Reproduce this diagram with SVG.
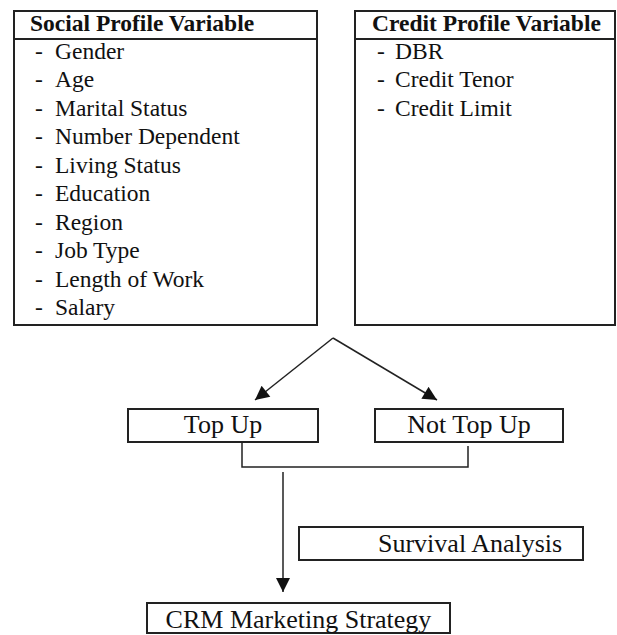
<svg xmlns="http://www.w3.org/2000/svg" width="617" height="635" viewBox="0 0 617 635">
<style>
.box{fill:#fff;stroke:#222;stroke-width:2}
.t{font-family:'Liberation Serif','DejaVu Serif',serif;fill:#111}
.h{font-weight:bold;font-size:23.5px}
.i{font-size:23.5px}
.l{font-size:26px}
.c{fill:none;stroke:#222;stroke-width:1.5}
</style>
<defs>
<marker id="ah" viewBox="0 0 10 10" refX="10" refY="5" markerWidth="16" markerHeight="14" markerUnits="userSpaceOnUse" orient="auto">
<path d="M0,0 L10,5 L0,10 z" fill="#111"/>
</marker>
</defs>
<rect width="617" height="635" fill="#fff"/>
<g id="social">
<rect class="box" x="14" y="11" width="303" height="314"/>
<line class="c" x1="14" y1="39" x2="317" y2="39" style="stroke-width:2"/>
<text class="t h" font-family="Liberation Serif, serif" x="30" y="31">Social Profile Variable</text>
<g class="t i" font-family="Liberation Serif, serif">
<text x="35" y="59">-</text><text x="55" y="59">Gender</text>
<text x="35" y="87.4">-</text><text x="55" y="87.4">Age</text>
<text x="35" y="115.9">-</text><text x="55" y="115.9">Marital Status</text>
<text x="35" y="144.3">-</text><text x="55" y="144.3">Number Dependent</text>
<text x="35" y="172.8">-</text><text x="55" y="172.8">Living Status</text>
<text x="35" y="201.2">-</text><text x="55" y="201.2">Education</text>
<text x="35" y="229.7">-</text><text x="55" y="229.7">Region</text>
<text x="35" y="258.1">-</text><text x="55" y="258.1">Job Type</text>
<text x="35" y="286.6">-</text><text x="55" y="286.6">Length of Work</text>
<text x="35" y="315">-</text><text x="55" y="315">Salary</text>
</g>
</g>
<g id="credit">
<rect class="box" x="355" y="11" width="260" height="314"/>
<line class="c" x1="355" y1="39" x2="615" y2="39" style="stroke-width:2"/>
<text class="t h" font-family="Liberation Serif, serif" x="372" y="31">Credit Profile Variable</text>
<g class="t i" font-family="Liberation Serif, serif">
<text x="377" y="59">-</text><text x="395" y="59">DBR</text>
<text x="377" y="87.4">-</text><text x="395" y="87.4">Credit Tenor</text>
<text x="377" y="115.9">-</text><text x="395" y="115.9">Credit Limit</text>
</g>
</g>
<g id="topup">
<rect class="box" x="128" y="409" width="190" height="33"/>
<text class="t l" font-family="Liberation Serif, serif" x="223" y="433" text-anchor="middle">Top Up</text>
</g>
<g id="nottopup">
<rect class="box" x="375" y="409" width="188" height="33"/>
<text class="t l" font-family="Liberation Serif, serif" x="469" y="433" text-anchor="middle">Not Top Up</text>
</g>
<g id="survival">
<rect class="box" x="299" y="527" width="284" height="33"/>
<text class="t l" font-family="Liberation Serif, serif" x="378" y="552">Survival Analysis</text>
</g>
<g id="crm">
<rect class="box" x="147" y="603" width="303" height="30"/>
<text class="t l" font-family="Liberation Serif, serif" x="298.5" y="628" text-anchor="middle">CRM Marketing Strategy</text>
</g>
<g id="connectors">
<line class="c" x1="333" y1="338" x2="255" y2="400" marker-end="url(#ah)"/>
<line class="c" x1="333" y1="338" x2="437" y2="400" marker-end="url(#ah)"/>
<polyline class="c" points="242,442 242,467 468,467 468,446"/>
<line class="c" x1="283" y1="472" x2="283" y2="592" marker-end="url(#ah)"/>
</g>
</svg>
